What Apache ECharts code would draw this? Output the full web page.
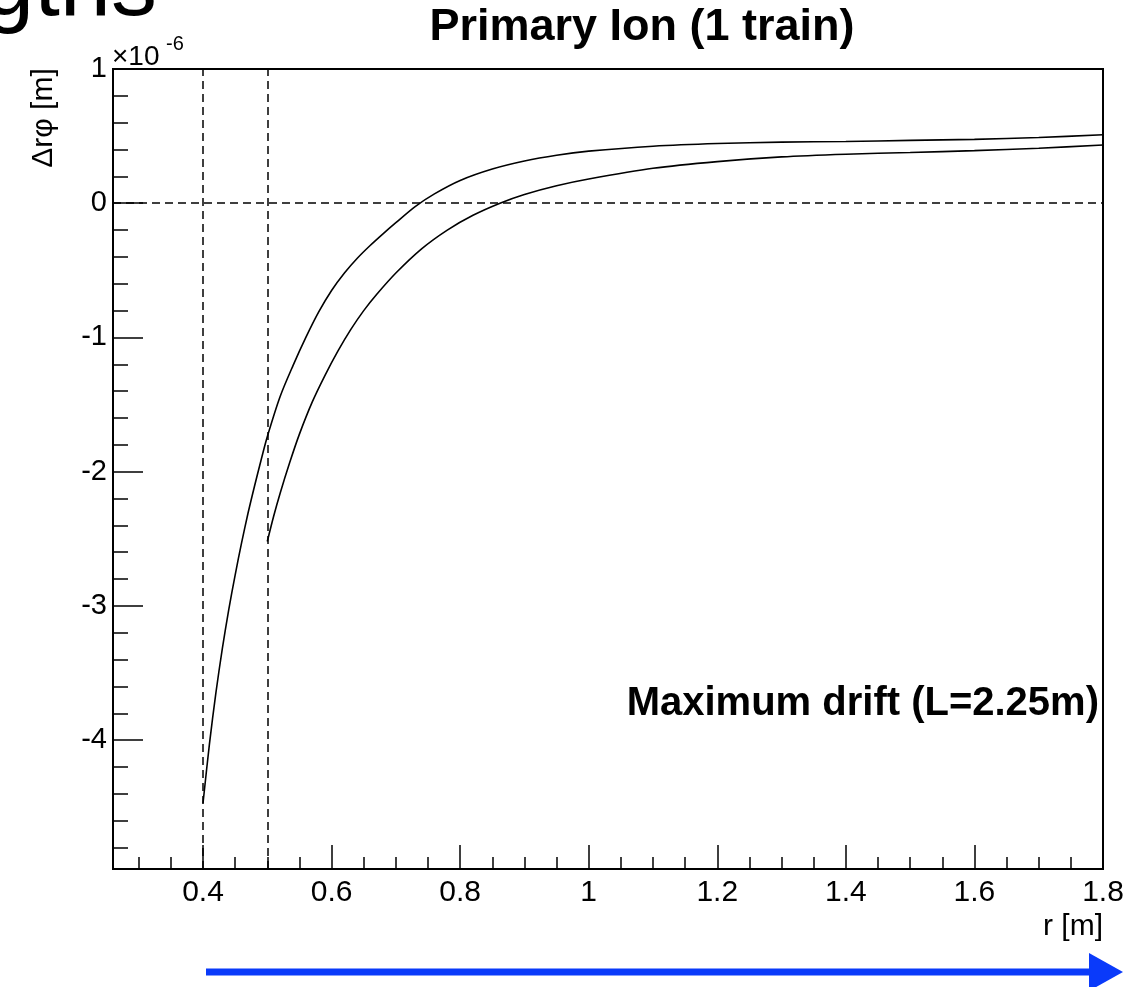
<!DOCTYPE html>
<html>
<head>
<meta charset="utf-8">
<title>Primary Ion (1 train)</title>
<script src="https://cdn.jsdelivr.net/npm/echarts@6/dist/echarts.min.js"></script>
<style>
  html, body { margin: 0; padding: 0; background: #fff; }
  #chart { width: 1146px; height: 987px; }
</style>
</head>
<body>
<div id="chart"></div>
<script>
// drift r position [m] and distortion [x1e-6 m]
var rUpper = [0.40, 0.41, 0.42, 0.43, 0.44, 0.45, 0.46, 0.47, 0.48, 0.49, 0.50, 0.52, 0.54, 0.56, 0.58,
              0.60, 0.62, 0.64, 0.66, 0.68, 0.70, 0.73, 0.76, 0.80, 0.85, 0.90, 0.95, 1.00, 1.10, 1.20,
              1.30, 1.40, 1.50, 1.60, 1.70, 1.80];
var dUpper = [-4.47, -4.03, -3.65, -3.32, -3.03, -2.77, -2.53, -2.31, -2.11, -1.92, -1.74, -1.44, -1.21, -1.00, -0.81,
              -0.65, -0.52, -0.41, -0.315, -0.228, -0.145, -0.025, 0.07, 0.17, 0.255, 0.315, 0.358, 0.388, 0.425, 0.445,
              0.455, 0.46, 0.468, 0.476, 0.49, 0.51];

var rLower = [0.50, 0.51, 0.52, 0.535, 0.55, 0.57, 0.59, 0.61, 0.63, 0.65, 0.67, 0.70, 0.74, 0.78, 0.82,
              0.862, 0.90, 0.95, 1.00, 1.10, 1.20, 1.30, 1.40, 1.50, 1.60, 1.70, 1.80];
var dLower = [-2.52, -2.33, -2.16, -1.93, -1.72, -1.48, -1.28, -1.10, -0.94, -0.80, -0.68, -0.52, -0.34, -0.20, -0.09,
              0.00, 0.065, 0.13, 0.18, 0.26, 0.31, 0.345, 0.365, 0.378, 0.392, 0.41, 0.434];

var xMajor = [0.4, 0.6, 0.8, 1, 1.2, 1.4, 1.6, 1.8];
var yMajor = [-4, -3, -2, -1, 0, 1];
var rMarks = [0.4, 0.5];

// minor tick positions (0.05 in r, 0.2 in distortion)
var xMinor = [];
for (var i = 6; i <= 36; i++) xMinor.push(+(i * 0.05).toFixed(2));
var yMinor = [];
for (var j = -24; j <= 5; j++) yMinor.push(+(j * 0.2).toFixed(1));

function pairs(xs, ys) {
  return xs.map(function (x, k) { return [x, ys[k]]; });
}

var chart = echarts.init(document.getElementById('chart'));
var font = 'Liberation Sans, Arial, Helvetica, sans-serif';
var blue = '#0a3afa';

var xBase = { type: 'value', min: 0.26, max: 1.8, position: 'bottom', splitLine: { show: false } };
var yBase = { type: 'value', min: -4.96, max: 1, position: 'left', splitLine: { show: false } };

var option = {
  animation: false,
  backgroundColor: '#fff',
  grid: {
    left: 113, top: 69, width: 990, height: 800,
    show: true, borderColor: '#000', borderWidth: 2
  },
  xAxis: [
    Object.assign({}, xBase, {
      axisLine: { onZero: false, lineStyle: { color: '#000', width: 2 } },
      axisTick: { inside: true, length: 24, customValues: xMajor, lineStyle: { color: '#000', width: 1.5 } },
      axisLabel: { customValues: xMajor, color: '#000', fontSize: 30, fontFamily: font, margin: 9 }
    }),
    Object.assign({}, xBase, {
      axisLine: { show: false, onZero: false },
      axisTick: { inside: true, length: 12, customValues: xMinor, lineStyle: { color: '#000', width: 1.5 } },
      axisLabel: { show: false }
    })
  ],
  yAxis: [
    Object.assign({}, yBase, {
      axisLine: { onZero: false, lineStyle: { color: '#000', width: 2 } },
      axisTick: { inside: true, length: 30, customValues: yMajor, lineStyle: { color: '#000', width: 1.5 } },
      axisLabel: { customValues: yMajor, color: '#000', fontSize: 29, fontFamily: font, margin: 6 }
    }),
    Object.assign({}, yBase, {
      axisLine: { show: false, onZero: false },
      axisTick: { inside: true, length: 15, customValues: yMinor, lineStyle: { color: '#000', width: 1.5 } },
      axisLabel: { show: false }
    })
  ],
  series: [
    {
      name: 'upper',
      type: 'line',
      data: pairs(rUpper, dUpper),
      showSymbol: false,
      smooth: 0.3,
      lineStyle: { color: '#000', width: 1.6 },
      markLine: {
        silent: true,
        symbol: 'none',
        label: { show: false },
        lineStyle: { color: '#000', type: [8, 5], width: 1.5 },
        data: rMarks.map(function (r) { return { xAxis: r }; }).concat([{ yAxis: 0 }])
      }
    },
    {
      name: 'lower',
      type: 'line',
      data: pairs(rLower, dLower),
      showSymbol: false,
      smooth: 0.3,
      lineStyle: { color: '#000', width: 1.6 }
    }
  ],
  graphic: [
    { type: 'text', x: 157, y: -10, style: { text: 'gths', font: '92px ' + font, fill: '#000', textAlign: 'right', textVerticalAlign: 'middle' } },
    { type: 'text', x: 642, y: 28, style: { text: 'Primary Ion (1 train)', font: 'bold 45px ' + font, fill: '#000', textAlign: 'center', textVerticalAlign: 'middle' } },
    { type: 'text', x: 112, y: 57, style: { text: '×10', font: '28px ' + font, fill: '#000', textAlign: 'left', textVerticalAlign: 'middle' } },
    { type: 'text', x: 166, y: 44, style: { text: '-6', font: '20px ' + font, fill: '#000', textAlign: 'left', textVerticalAlign: 'middle' } },
    { type: 'text', x: 44, y: 118, rotation: Math.PI / 2, style: { text: 'Δrφ [m]', font: '30px ' + font, fill: '#000', textAlign: 'center', textVerticalAlign: 'middle' } },
    { type: 'text', x: 1103, y: 927, style: { text: 'r [m]', font: '30px ' + font, fill: '#000', textAlign: 'right', textVerticalAlign: 'middle' } },
    { type: 'text', x: 1099, y: 704, style: { text: 'Maximum drift (L=2.25m)', font: 'bold 40px ' + font, fill: '#000', textAlign: 'right', textVerticalAlign: 'middle' } },
    { type: 'line', shape: { x1: 206, y1: 972, x2: 1092, y2: 972 }, style: { stroke: blue, lineWidth: 7 } },
    { type: 'polygon', shape: { points: [[1089, 953], [1123, 972], [1089, 991]] }, style: { fill: blue } }
  ]
};

chart.setOption(option);
window.addEventListener('resize', function () {
  chart.resize();
});
</script>
</body>
</html>
